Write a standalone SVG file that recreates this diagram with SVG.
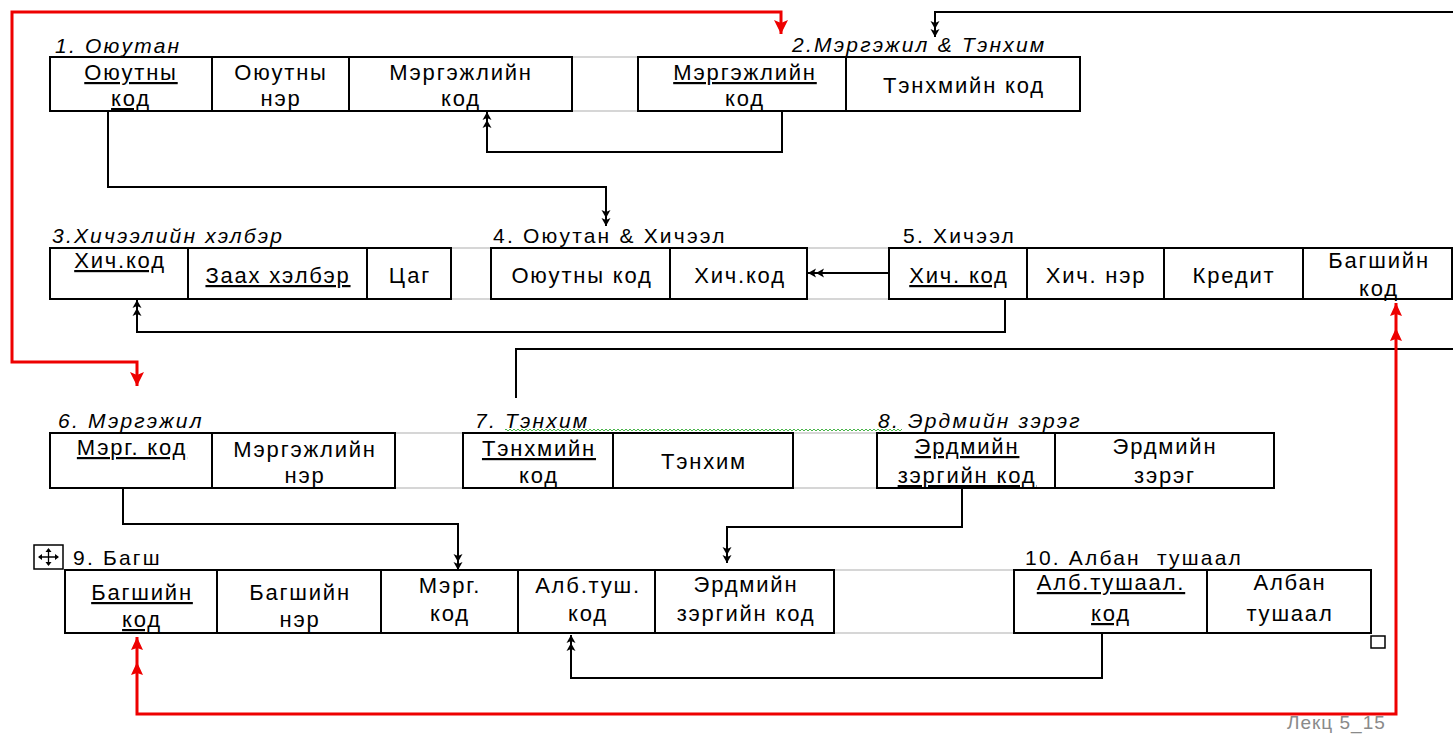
<svg xmlns="http://www.w3.org/2000/svg" width="1453" height="736" viewBox="0 0 1453 736">
<style>
.b{fill:#fff;stroke:#000;stroke-width:2}
.d{stroke:#000;stroke-width:2}
.g{stroke:#c8c8c8;stroke-width:1.5}
.t{font-family:"Liberation Sans",Arial,sans-serif;font-size:22px;letter-spacing:1.8px;text-anchor:middle;fill:#000}
.u{text-decoration:underline}
.l{font-family:"Liberation Sans",Arial,sans-serif;font-size:21px;letter-spacing:2.2px;fill:#000}
.i{font-style:italic}
.c{fill:none;stroke:#000;stroke-width:2;marker-end:url(#a2)}
.r{fill:none;stroke:#e00;stroke-width:3}
</style>
<defs>
<marker id="a2" viewBox="0 0 18 12" refX="18" refY="6" markerWidth="18" markerHeight="12" markerUnits="userSpaceOnUse" orient="auto"><path d="M18,6 L10,1.5 L12,6 L10,10.5 Z M10,6 L2,1.5 L4,6 L2,10.5 Z" fill="#000"/></marker>
<marker id="r1" viewBox="0 0 14 14" refX="14" refY="7" markerWidth="14" markerHeight="14" markerUnits="userSpaceOnUse" orient="auto-start-reverse"><path d="M14,7 L0,0 L3,7 L0,14 Z" fill="#e00"/></marker>
<marker id="r2" viewBox="0 0 44 14" refX="44" refY="7" markerWidth="44" markerHeight="14" markerUnits="userSpaceOnUse" orient="auto-start-reverse"><path d="M44,7 L31,1 L33,7 L31,13 Z M19,7 L6,1 L8,7 L6,13 Z" fill="#e00"/></marker>
<pattern id="w" width="4" height="4" patternUnits="userSpaceOnUse"><path d="M0,3 L2,1 L4,3" stroke="#3a3" fill="none" stroke-width="0.9"/></pattern>
</defs>
<rect width="1453" height="736" fill="#fff"/>

<g id="gaps">
<line class="g" x1="572" y1="57" x2="638" y2="57"/><line class="g" x1="572" y1="111" x2="638" y2="111"/>
<line class="g" x1="451" y1="248" x2="491" y2="248"/><line class="g" x1="451" y1="299" x2="491" y2="299"/>
<line class="g" x1="807" y1="248" x2="889" y2="248"/><line class="g" x1="807" y1="299" x2="889" y2="299"/>
<line class="g" x1="395" y1="433" x2="463" y2="433"/><line class="g" x1="395" y1="488" x2="463" y2="488"/>
<line class="g" x1="793" y1="433" x2="877" y2="433"/><line class="g" x1="793" y1="488" x2="877" y2="488"/>
<line class="g" x1="834" y1="570" x2="1014" y2="570"/><line class="g" x1="834" y1="633" x2="1014" y2="633"/>
</g>

<g id="t1">
<text class="l i" x="55" y="53">1. Оюутан</text>
<rect class="b" x="50" y="57" width="522" height="54"/>
<line class="d" x1="212" y1="57" x2="212" y2="111"/><line class="d" x1="349" y1="57" x2="349" y2="111"/>
<text class="t u" x="131" y="80">Оюутны</text><text class="t u" x="131" y="106">код</text>
<text class="t" x="281" y="80">Оюутны</text><text class="t" x="281" y="106">нэр</text>
<text class="t" x="461" y="80">Мэргэжлийн</text><text class="t" x="461" y="106">код</text>
</g>

<g id="t2">
<text class="l i" x="792" y="52">2.Мэргэжил &amp; Тэнхим</text>
<rect class="b" x="638" y="57" width="442" height="54"/>
<line class="d" x1="846" y1="57" x2="846" y2="111"/>
<text class="t u" x="745" y="80">Мэргэжлийн</text><text class="t" x="745" y="106">код</text>
<text class="t" x="964" y="93">Тэнхмийн код</text>
</g>

<g id="t3">
<text class="l i" x="52" y="243">3.Хичээлийн хэлбэр</text>
<rect class="b" x="50" y="248" width="401" height="51"/>
<line class="d" x1="188" y1="248" x2="188" y2="299"/><line class="d" x1="367" y1="248" x2="367" y2="299"/>
<text class="t u" x="120" y="268">Хич.код</text>
<text class="t u" x="278" y="283">Заах хэлбэр</text>
<text class="t" x="410" y="283">Цаг</text>
</g>

<g id="t4">
<text class="l" x="493" y="243">4. Оюутан &amp; Хичээл</text>
<rect class="b" x="491" y="248" width="316" height="51"/>
<line class="d" x1="670" y1="248" x2="670" y2="299"/>
<text class="t" x="582" y="283">Оюутны код</text>
<text class="t" x="740" y="283">Хич.код</text>
</g>

<g id="t5">
<text class="l" x="903" y="243">5. Хичээл</text>
<rect class="b" x="889" y="248" width="563" height="51"/>
<line class="d" x1="1027" y1="248" x2="1027" y2="299"/><line class="d" x1="1164" y1="248" x2="1164" y2="299"/><line class="d" x1="1303" y1="248" x2="1303" y2="299"/>
<text class="t u" x="959" y="283">Хич. код</text>
<text class="t" x="1096" y="283">Хич. нэр</text>
<text class="t" x="1234" y="283">Кредит</text>
<text class="t" x="1379" y="268">Багшийн</text><text class="t" x="1379" y="296">код</text>
</g>

<g id="t6">
<text class="l i" x="58" y="428">6. Мэргэжил</text>
<rect class="b" x="50" y="433" width="345" height="55"/>
<line class="d" x1="212" y1="433" x2="212" y2="488"/>
<text class="t u" x="132" y="455">Мэрг. код</text>
<text class="t" x="305" y="457">Мэргэжлийн</text><text class="t" x="305" y="483">нэр</text>
</g>

<g id="t7">
<rect x="505" y="428" width="397" height="4" fill="url(#w)"/>
<text class="l i" x="475" y="428">7. Тэнхим</text>
<rect class="b" x="463" y="433" width="330" height="55"/>
<line class="d" x1="613" y1="433" x2="613" y2="488"/>
<text class="t u" x="539" y="456">Тэнхмийн</text><text class="t" x="539" y="483">код</text>
<text class="t" x="704" y="469">Тэнхим</text>
</g>

<g id="t8">
<text class="l i" x="878" y="428">8. Эрдмийн зэрэг</text>
<rect class="b" x="877" y="433" width="397" height="55"/>
<line class="d" x1="1055" y1="433" x2="1055" y2="488"/>
<text class="t u" x="967" y="454">Эрдмийн</text><text class="t u" x="967" y="483">зэргийн код</text>
<text class="t" x="1165" y="454">Эрдмийн</text><text class="t" x="1165" y="483">зэрэг</text>
</g>

<g id="t9">
<rect x="34" y="545" width="29" height="24" fill="#fff" stroke="#000" stroke-width="1.5"/>
<path d="M48.5,549 V565 M39,557 H58" stroke="#000" stroke-width="1.3"/>
<path d="M48.5,548 l-3,4 h6 Z M48.5,566 l-3,-4 h6 Z M38,557 l4,-3 v6 Z M59,557 l-4,-3 v6 Z" fill="#000"/>
<text class="l" x="73" y="565">9. Багш</text>
<rect class="b" x="65" y="570" width="769" height="63"/>
<line class="d" x1="217" y1="570" x2="217" y2="633"/><line class="d" x1="381" y1="570" x2="381" y2="633"/><line class="d" x1="518" y1="570" x2="518" y2="633"/><line class="d" x1="655" y1="570" x2="655" y2="633"/>
<text class="t u" x="142" y="600">Багшийн</text><text class="t u" x="142" y="627">код</text>
<text class="t" x="300" y="600">Багшийн</text><text class="t" x="300" y="627">нэр</text>
<text class="t" x="450" y="593">Мэрг.</text><text class="t" x="450" y="621">код</text>
<text class="t" x="588" y="593">Алб.туш.</text><text class="t" x="588" y="621">код</text>
<text class="t" x="746" y="592">Эрдмийн</text><text class="t" x="746" y="621">зэргийн код</text>
</g>

<g id="t10">
<text class="l" x="1025" y="565" style="white-space:pre">10. Албан  тушаал</text>
<rect class="b" x="1014" y="570" width="357" height="63"/>
<line class="d" x1="1207" y1="570" x2="1207" y2="633"/>
<text class="t u" x="1111" y="590">Алб.тушаал.</text><text class="t u" x="1111" y="621">код</text>
<text class="t" x="1290" y="590">Албан</text><text class="t" x="1290" y="621">тушаал</text>
<rect x="1371" y="636" width="14" height="12" fill="#fff" stroke="#000" stroke-width="1.5"/>
</g>

<g id="connectors">
<path class="c" d="M108,111 V187 H606 V226"/>
<path class="c" d="M782,111 V152 H487 V112"/>
<path class="c" d="M1453,12 H935 V37"/>
<path class="c" d="M889,273 H808"/>
<path class="c" d="M1005,299 V332 H137 V300"/>
<path fill="none" stroke="#000" stroke-width="2" d="M1453,349 H516 V398"/>
<path class="c" d="M123,488 V524 H458 V570"/>
<path class="c" d="M962,488 V527 H727 V563"/>
<path class="c" d="M1102,633 V678 H571 V635"/>
<path class="r" d="M781,34 V12 H12 V362 H137 V386" marker-start="url(#r1)" marker-end="url(#r1)"/>
<path class="r" d="M137,637 V714 H1396 V303" marker-start="url(#r2)" marker-end="url(#r2)"/>
</g>

<text x="1287" y="729" font-family="Liberation Sans, Arial, sans-serif" font-size="19" fill="#8a8a8a" letter-spacing="1">Лекц 5_15</text>
</svg>
